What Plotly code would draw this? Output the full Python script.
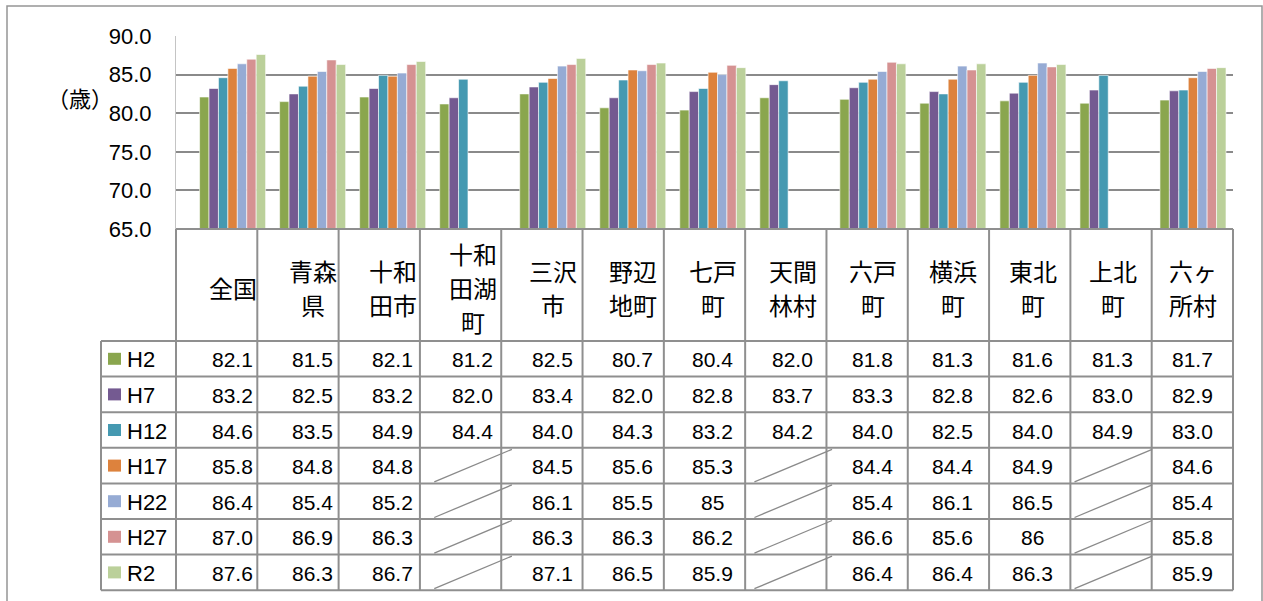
import plotly.graph_objects as go

# ---------------- data ----------------
categories = ["全国", "青森県", "十和田市", "十和田湖町", "三沢市", "野辺地町", "七戸町",
              "天間林村", "六戸町", "横浜町", "東北町", "上北町", "六ヶ所村"]
header_lines = [["全国"], ["青森", "県"], ["十和", "田市"], ["十和", "田湖", "町"], ["三沢", "市"],
                ["野辺", "地町"], ["七戸", "町"], ["天間", "林村"], ["六戸", "町"], ["横浜", "町"],
                ["東北", "町"], ["上北", "町"], ["六ヶ", "所村"]]
series_names = ["H2", "H7", "H12", "H17", "H22", "H27", "R2"]
H2 = [82.1, 81.5, 82.1, 81.2, 82.5, 80.7, 80.4, 82.0, 81.8, 81.3, 81.6, 81.3, 81.7]
H7 = [83.2, 82.5, 83.2, 82.0, 83.4, 82.0, 82.8, 83.7, 83.3, 82.8, 82.6, 83.0, 82.9]
H12 = [84.6, 83.5, 84.9, 84.4, 84.0, 84.3, 83.2, 84.2, 84.0, 82.5, 84.0, 84.9, 83.0]
H17 = [85.8, 84.8, 84.8, None, 84.5, 85.6, 85.3, None, 84.4, 84.4, 84.9, None, 84.6]
H22 = [86.4, 85.4, 85.2, None, 86.1, 85.5, 85, None, 85.4, 86.1, 86.5, None, 85.4]
H27 = [87.0, 86.9, 86.3, None, 86.3, 86.3, 86.2, None, 86.6, 85.6, 86, None, 85.8]
R2 = [87.6, 86.3, 86.7, None, 87.1, 86.5, 85.9, None, 86.4, 86.4, 86.3, None, 85.9]
series_values = [H2, H7, H12, H17, H22, H27, R2]
y_title = "（歳）"

# ---------------- styles / layout geometry ----------------
colors = ["#8AA64E", "#745A91", "#4599B1", "#DD823D", "#96ABD4", "#D59292", "#BBD09A"]
W, H = 1263, 601
PLOT_L, PLOT_R = 176, 1233
PLOT_T, PLOT_B = 36, 229
LABEL_L = 101
HEADER_H = 112
ROW_H = 35.6
HEADER_LINE = 34
TABLE_BOTTOM = HEADER_H + ROW_H * 7
LINE_C = "#8f8f8f"
NUM_FONT = "Liberation Sans, Arial, sans-serif"
JP_FONT = "Noto Sans CJK JP, sans-serif"


def px_x(p):
    return p / W


def fmt(v):
    if v is None:
        return ""
    if isinstance(v, int):
        return str(v)
    return f"{v:.1f}"


fig = go.Figure()
for name, vals, c in zip(series_names, series_values, colors):
    fig.add_trace(go.Bar(
        x=categories, y=vals, name=name,
        marker=dict(color=c, line=dict(color="rgba(255,255,255,0.75)", width=0.8)),
        showlegend=False,
    ))

# invisible trace to create the table axis (x / y2)
fig.add_trace(go.Scatter(x=[categories[0]], y=[0], yaxis="y2", mode="markers",
                         marker=dict(opacity=0), hoverinfo="skip", showlegend=False))

shapes = []
annotations = []

# outer chart border
shapes.append(dict(type="rect", xref="paper", yref="paper",
                   x0=px_x(7), x1=px_x(1262), y0=-0.05, y1=1 - 6 / H,
                   line=dict(color="#959595", width=1.5), layer="below"))

col_w = (PLOT_R - PLOT_L) / len(categories)
# table horizontal lines
shapes.append(dict(type="line", xref="paper", yref="y2", x0=px_x(PLOT_L), x1=px_x(PLOT_R),
                   y0=0, y1=0, line=dict(color=LINE_C, width=2)))
for k in range(8):
    yy = HEADER_H + k * ROW_H
    shapes.append(dict(type="line", xref="paper", yref="y2", x0=px_x(LABEL_L), x1=px_x(PLOT_R),
                       y0=yy, y1=yy, line=dict(color=LINE_C, width=2)))
# table vertical lines
for i in range(len(categories) + 1):
    xx = PLOT_L + i * col_w
    shapes.append(dict(type="line", xref="paper", yref="y2", x0=px_x(xx), x1=px_x(xx),
                       y0=0, y1=TABLE_BOTTOM, line=dict(color=LINE_C, width=2)))
shapes.append(dict(type="line", xref="paper", yref="y2", x0=px_x(LABEL_L), x1=px_x(LABEL_L),
                   y0=HEADER_H, y1=TABLE_BOTTOM, line=dict(color=LINE_C, width=2)))

# header labels (one annotation per line)
for cat, lines in zip(categories, header_lines):
    n = len(lines)
    for j, line in enumerate(lines):
        yc = HEADER_H / 2 + 2 + (j - (n - 1) / 2) * HEADER_LINE
        annotations.append(dict(x=cat, xref="x", y=yc, yref="y2", text=line,
                                showarrow=False, xanchor="center", yanchor="middle",
                                font=dict(family=JP_FONT, size=24, color="#000000")))

# rows
for r, (name, vals, c) in enumerate(zip(series_names, series_values, colors)):
    top = HEADER_H + r * ROW_H
    mid = top + ROW_H / 2
    shapes.append(dict(type="rect", xref="paper", yref="y2",
                       x0=px_x(108), x1=px_x(121), y0=mid - 6, y1=mid + 6,
                       fillcolor=c, line=dict(width=0)))
    annotations.append(dict(x=px_x(125), xref="paper", y=mid + 1, yref="y2", text=name,
                            showarrow=False, xanchor="left", yanchor="middle",
                            font=dict(family=NUM_FONT, size=22, color="#000000")))
    for i, (cat, v) in enumerate(zip(categories, vals)):
        if v is None:
            shapes.append(dict(type="line", xref="x", yref="y2",
                               x0=i - 0.5 + 0.02, x1=i + 0.5 - 0.01,
                               y0=top + ROW_H - 1.5, y1=top + 1.5,
                               line=dict(color="#8a8a8a", width=1.3)))
        else:
            annotations.append(dict(x=cat, xref="x", y=mid + 1, yref="y2", text=fmt(v),
                                    showarrow=False, xanchor="center", yanchor="middle",
                                    font=dict(family=NUM_FONT, size=21, color="#000000")))

# y unit label
annotations.append(dict(x=px_x(80), xref="paper", y=1 - 97 / H, yref="paper", text=y_title,
                        showarrow=False, xanchor="center", yanchor="middle",
                        font=dict(family=JP_FONT, size=22, color="#000000")))

fig.update_layout(
    width=W, height=H, autosize=False,
    margin=dict(l=0, r=0, t=0, b=0, pad=0, autoexpand=False),
    paper_bgcolor="white", plot_bgcolor="rgba(0,0,0,0)",
    barmode="group", bargap=0.175, bargroupgap=0.0,
    xaxis=dict(domain=[px_x(PLOT_L), px_x(PLOT_R)], type="category", automargin=False,
               showticklabels=False, showgrid=False, zeroline=False, showline=False,
               ticks="", anchor="y"),
    yaxis=dict(domain=[1 - PLOT_B / H, 1 - PLOT_T / H], range=[65, 90], dtick=5,
               tick0=65, tickformat=".1f", showgrid=True, gridcolor="#8a8a8a", gridwidth=2,
               zeroline=False, showline=True, linecolor="#c4c4c4", linewidth=1,
               automargin=False,
               ticks="outside", ticklen=19, tickcolor="rgba(0,0,0,0)",
               tickfont=dict(family=NUM_FONT, size=22, color="#000000"), anchor="x"),
    yaxis2=dict(domain=[0, 1 - (PLOT_B - 4) / H], range=[372, -4], autorange=False,
                automargin=False, visible=False, anchor="x", showgrid=False, zeroline=False),
    shapes=shapes,
    annotations=annotations,
)

fig.write_html("out.html")
